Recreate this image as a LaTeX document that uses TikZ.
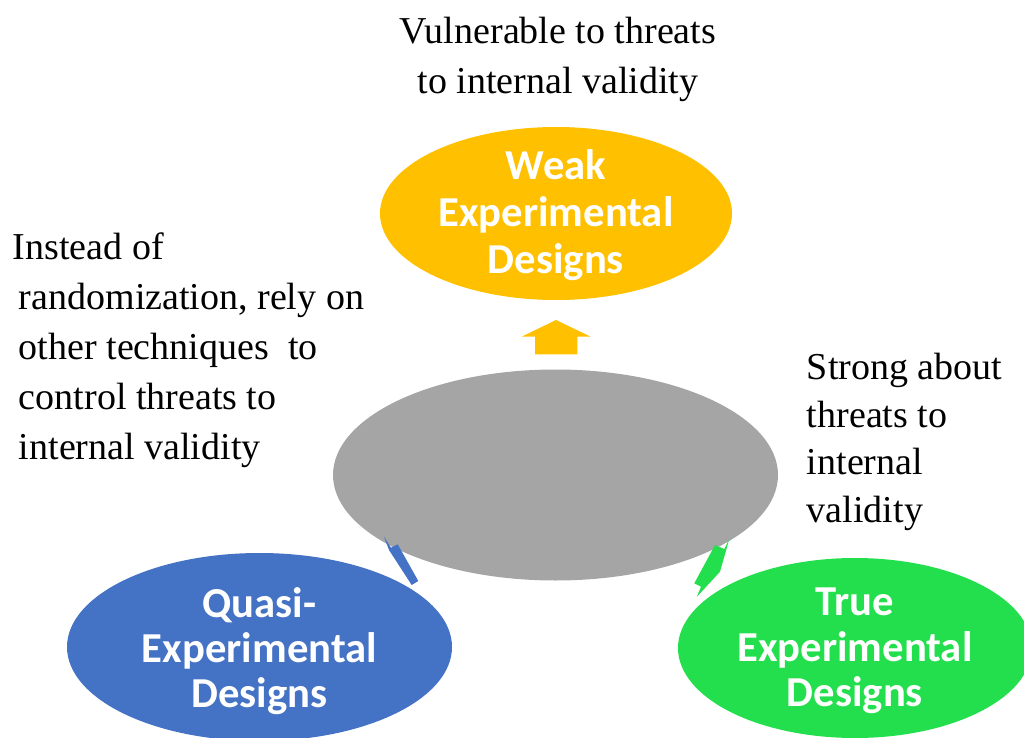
\documentclass[tikz,border=0pt]{standalone}
\usepackage{fontspec}
\setmainfont{Liberation Serif}
\newfontfamily\calfont{Carlito}

\tikzset{every picture/.style={line width=0.75pt}}

\begin{document}
\begin{tikzpicture}[x=0.75pt,y=0.75pt,yscale=-1,xscale=1]
\useasboundingbox (0,0) rectangle (1024,738);
\clip (0,0) rectangle (1024,738);

%Shape: Ellipse [id:gray]
\draw  [draw opacity=0][fill={rgb, 255:red, 165; green, 165; blue, 165 }  ,fill opacity=1 ] (555.5,475) ellipse (222.5 and 105.5) ;
%Shape: Ellipse [id:yellow]
\draw  [draw opacity=0][fill={rgb, 255:red, 255; green, 192; blue, 0 }  ,fill opacity=1 ] (556,213.5) ellipse (176 and 86.5) ;
%Shape: Ellipse [id:blue]
\draw  [draw opacity=0][fill={rgb, 255:red, 68; green, 114; blue, 196 }  ,fill opacity=1 ] (259.5,647) ellipse (192.5 and 94) ;
%Shape: Ellipse [id:green]
\draw  [draw opacity=0][fill={rgb, 255:red, 35; green, 223; blue, 77 }  ,fill opacity=1 ] (855,648) ellipse (177 and 90) ;

%Shape: Up Arrow [id:uparrow]
\draw  [draw opacity=0][fill={rgb, 255:red, 255; green, 192; blue, 0 }  ,fill opacity=1 ] (556,320) -- (590.7,336.7) -- (577.3,336.7) -- (577.3,354.3) -- (535,354.3) -- (535,336.7) -- (521.7,336.7) -- cycle ;
%Shape: Arrow [id:bluearrow]
\draw  [draw opacity=0][fill={rgb, 255:red, 68; green, 114; blue, 196 }  ,fill opacity=1 ] (384,536.7) -- (391,547.7) -- (397.7,544.3) -- (418.3,581) -- (411.7,585) -- (389,550) -- cycle ;
%Shape: Arrow [id:greenarrow]
\draw  [draw opacity=0][fill={rgb, 255:red, 35; green, 223; blue, 77 }  ,fill opacity=1 ] (715,545) -- (724.3,549) -- (729.3,539) -- (720,571.7) -- (696.7,597) -- (701,586.7) -- (694.3,583.3) -- cycle ;

% Text Node
\draw (556,215) node [align=center, text={rgb, 255:red, 255; green, 255; blue, 255 }, font=\calfont\bfseries\fontsize{32}{35.5}\selectfont] (weak) {Weak\\Experimental\\Designs};
% Text Node
\draw (259.5,651) node [align=center, text={rgb, 255:red, 255; green, 255; blue, 255 }, font=\calfont\bfseries\fontsize{32}{34}\selectfont] (quasi) {Quasi-\\Experimental\\Designs};
% Text Node
\draw (855,651) node [align=center, text={rgb, 255:red, 255; green, 255; blue, 255 }, font=\calfont\bfseries\fontsize{32}{34}\selectfont] (true) {True\\Experimental\\Designs};
% Text Node
\draw (558,59) node [align=center, font=\fontsize{28.5}{37.5}\selectfont] (vuln) {Vulnerable to threats\\to internal validity};
% Text Node
\draw (8,350) node [anchor=west, align=left, font=\fontsize{28.5}{37.5}\selectfont] (instead) {Instead of\\\hspace*{4.5pt}randomization, rely on\\\hspace*{4.5pt}other techniques~ to\\\hspace*{4.5pt}control threats to\\\hspace*{4.5pt}internal validity};
% Text Node
\draw (802,442) node [anchor=west, align=left, font=\fontsize{28.5}{35.6}\selectfont] (strong) {Strong about\\threats to\\internal\\validity};

\end{tikzpicture}
\end{document}
